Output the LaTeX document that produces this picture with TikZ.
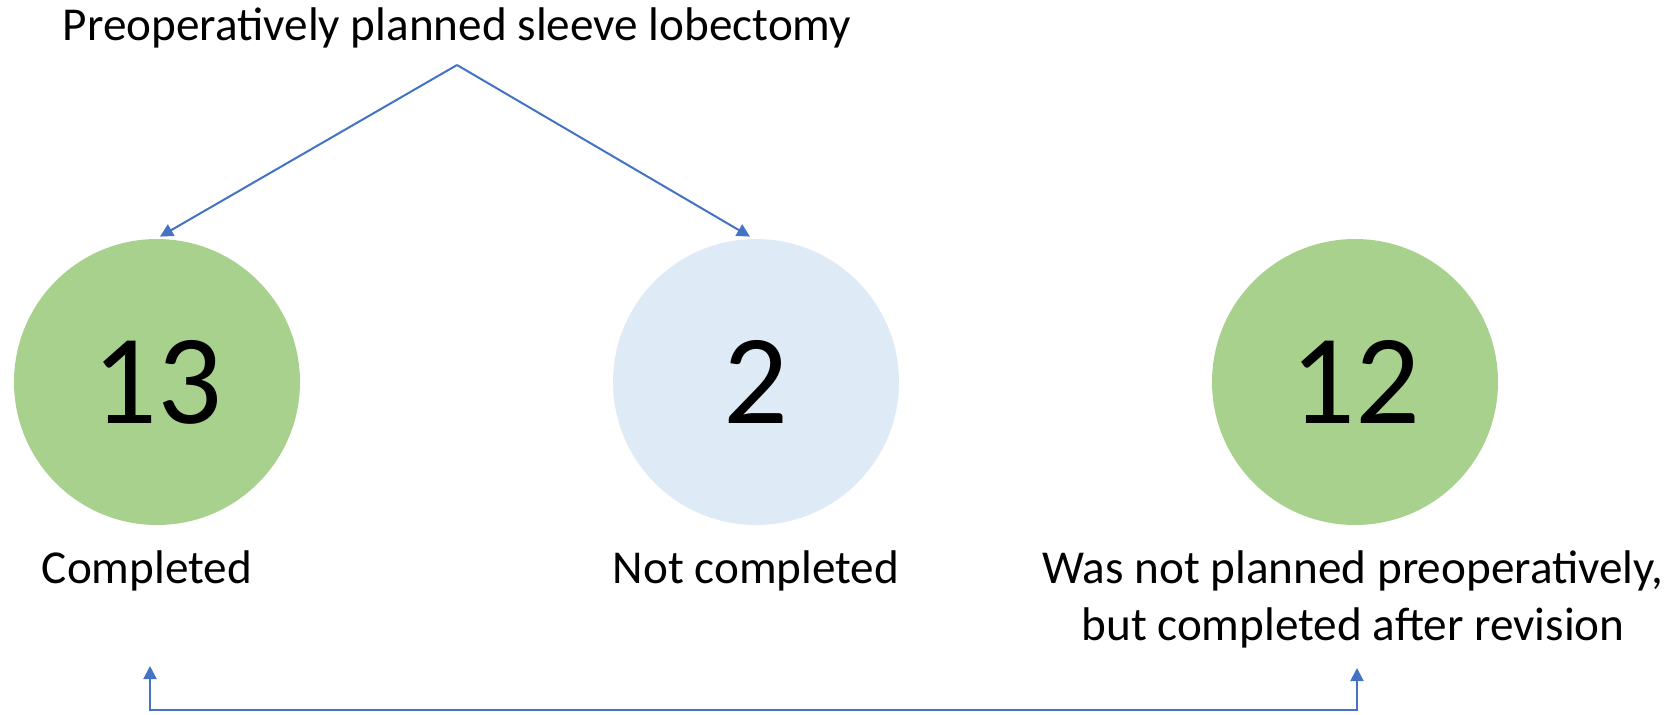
\documentclass[tikz,border=0pt]{standalone}
\usepackage{fontspec}
\setmainfont{Carlito}
\usetikzlibrary{arrows.meta}
\definecolor{cgreen}{HTML}{A9D18E}
\definecolor{cblue}{HTML}{DEEBF7}
\definecolor{aline}{HTML}{4472C4}
\tikzset{
  count/.style={circle, inner sep=0pt, minimum size=143pt, font=\fontsize{64}{70}\selectfont},
  lbl/.style={inner sep=0pt, font=\fontsize{23.6}{28.5}\selectfont, align=center},
  conn/.style={draw=aline, line width=1pt, -{Triangle[width=6.5pt,length=6.5pt]}},
}
\begin{document}
\begin{tikzpicture}[x=0.5pt,y=-0.5pt]
\useasboundingbox (0,0) rectangle (1672,714);
\node[lbl, anchor=base] (title) at (457,40) {Preoperatively planned sleeve lobectomy};
\coordinate (apex) at (457,65);
\node[count, fill=cgreen] (c1) at (157,382) {13};
\node[count, fill=cblue] (c2) at (756,382) {2};
\node[count, fill=cgreen] (c3) at (1355,382) {12};
\node[lbl, anchor=base] (l1) at (147,583) {Completed};
\node[lbl, anchor=base] (l2) at (756,583) {Not completed};
\node[lbl, anchor=base] (l3) at (1353,640) {Was not planned preoperatively,\\but completed after revision};
\draw[conn] (apex) -- ([xshift=1.5pt,yshift=1pt]c1.north);
\draw[conn] (apex) -- ([xshift=-3pt,yshift=1pt]c2.north);
\coordinate (b1) at (150,710);
\coordinate (b3) at (1357,710);
\coordinate (t1) at (150,666);
\coordinate (t3) at (1357,668);
\draw[conn, {Triangle[width=6.5pt,length=6.5pt]}-{Triangle[width=6.5pt,length=6.5pt]}] (t1) -- (b1) -- (b3) -- (t3);
\end{tikzpicture}
\end{document}
